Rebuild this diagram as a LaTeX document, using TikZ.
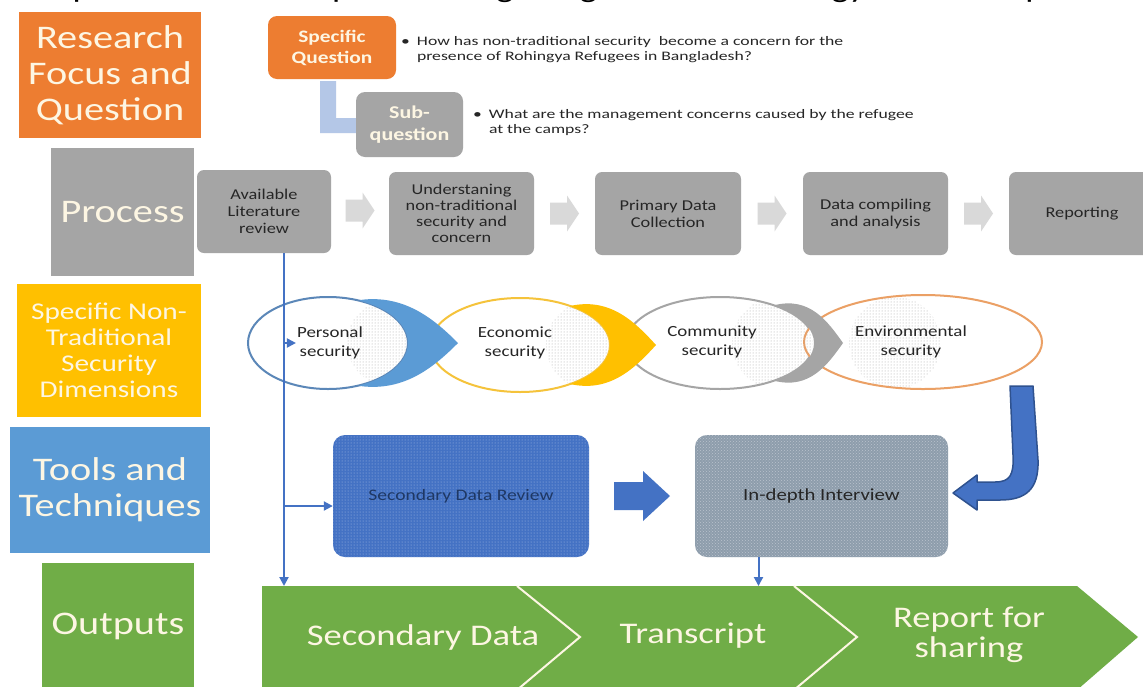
\documentclass[tikz,border=0pt]{standalone}
\usepackage{fontspec}
\setmainfont{Carlito}[FakeStretch=1.22]
\newfontfamily\widefam{Carlito}[FakeStretch=1.36]
\usetikzlibrary{shapes.geometric,arrows.meta,calc,patterns}

\definecolor{orng}{HTML}{ED7D31}
\definecolor{greyb}{HTML}{A5A5A5}
\definecolor{gold}{HTML}{FFC000}
\definecolor{skyb}{HTML}{5B9BD5}
\definecolor{leaf}{HTML}{70AD47}
\definecolor{cream}{HTML}{FDF6E3}
\definecolor{ink}{HTML}{262626}
\definecolor{paleblue}{HTML}{B4C7E7}
\definecolor{arrgray}{HTML}{D9D9D9}
\definecolor{royal}{HTML}{4472C4}
\definecolor{navy}{HTML}{2F528F}
\definecolor{darknavy}{HTML}{1F3864}
\definecolor{slate}{HTML}{8E9DAC}
\definecolor{slatedot}{HTML}{BAC4CE}
\definecolor{sdrdot}{HTML}{A9BFE6}
\definecolor{dotgray}{HTML}{A8A8A8}
\definecolor{persline}{HTML}{5B87B8}
\definecolor{econline}{HTML}{F5C33B}
\definecolor{envline}{HTML}{EBA065}

\newcommand\fsz[2]{\fontsize{#1}{#2}\selectfont}

\tikzset{
  lbl/.style={fill=#1, text=cream, align=center, inner sep=0pt},
  rbox/.style={fill=#1, text=cream, align=center, inner sep=0pt, rounded corners=9pt},
  pbox/.style={fill=greyb, text=ink, align=center, inner sep=0pt, rounded corners=7pt,
               minimum height=83pt, font=\fsz{15}{17}},
  ell/.style={ellipse, fill=white, line width=2pt, inner sep=0pt},
  etxt/.style={text=ink, align=center, inner sep=1pt, font=\fsz{15.5}{19}},
  conn/.style={draw=royal, line width=2pt, -{Triangle[length=9pt,width=9pt]}},
  outtxt/.style={text=cream, align=center, inner sep=0pt, font=\fsz{30}{30}},
  qtxt/.style={anchor=west, inner sep=0pt, text=ink, font=\widefam\fsz{13}{15}},
  pics/grayarrow/.style={code={
    \fill[arrgray] (-14.5,-11) -- (2.5,-11) -- (2.5,-18) -- (14.5,0)
                   -- (2.5,18) -- (2.5,11) -- (-14.5,11) -- cycle;}},
  pics/bigarrow/.style={code={
    \fill[royal] (-28,-14) -- (1,-14) -- (1,-25) -- (28,0)
                 -- (1,25) -- (1,14) -- (-28,14) -- cycle;}},
}

\begin{document}
\begin{tikzpicture}[x=1pt,y=-1pt]
\useasboundingbox (0,0) rectangle (1143,686);
\clip (0,0) rectangle (1143,686);
\fill[white] (0,0) rectangle (1143,686);

% running text from the page above, only its lowest part is on the sheet
\node[anchor=base west, inner sep=0pt, font=\fsz{30}{30}, text=black] (runtxt) at (8,-3)
  {is expected to be completed using the given methodology and conceptual framework};

% row labels
\node[lbl=orng, minimum width=182pt, minimum height=126pt, font=\fsz{33}{36}] (rq) at (110,75)
  {Research\\Focus and\\Question};
\node[lbl=greyb, minimum width=143pt, minimum height=128pt, font=\fsz{33}{36}] (proc) at (122.5,212)
  {Process};
\node[lbl=gold, minimum width=184pt, minimum height=133pt, font=\fsz{24}{26}] (dims) at (109,350.5)
  {Specific Non-\\Traditional\\Security\\Dimensions};
\node[lbl=skyb, minimum width=200pt, minimum height=126pt, font=\fsz{33}{36}] (tools) at (110,490)
  {Tools and\\Techniques};
\node[lbl=leaf, minimum width=152pt, minimum height=127pt, font=\fsz{33}{36}] (outl) at (118,626.5)
  {Outputs};

% research questions
\fill[paleblue] (320,81) rectangle (336,133) (336,118) rectangle (362,133);
\node[rbox=orng, minimum width=128pt, minimum height=63pt, font=\bfseries\fsz{17.5}{21}] (sq) at (332,47.5)
  {Specific\\Question};
\node[rbox=greyb, minimum width=107pt, minimum height=65pt, font=\bfseries\fsz{18}{22}] (subq) at (409.5,124.5)
  {Sub-\\question};
\node[qtxt] (q1) at (401,50)
  {\begin{tabular}{@{}l@{\hspace{7pt}}l@{}}\textbullet & How has non-traditional security~ become a concern for the\\
   & presence of Rohingya Refugees in Bangladesh?\end{tabular}};
\node[qtxt] (q2) at (473,123)
  {\begin{tabular}{@{}l@{\hspace{7pt}}l@{}}\textbullet & What are the management concerns caused by the refugee\\
   & at the camps?\end{tabular}};

% process steps
\node[pbox, minimum width=134pt] (lit)  at (264,211.5) {Available\\Literature\\review};
\node[pbox, minimum width=145pt, font=\fsz{15}{16}] (und) at (461.5,213.5)
  {Understaning\\non-traditional\\security and\\concern};
\node[pbox, minimum width=146pt] (prim) at (668,213.5) {Primary Data\\Collection};
\node[pbox, minimum width=145pt] (comp) at (875.5,213.5) {Data compiling\\and analysis};
\node[pbox, minimum width=146pt] (rep)  at (1082,213.5) {Reporting};
\pic at ($(lit.east)!.5!(und.west)+(0,-2)$) {grayarrow};
\pic at ($(und.east)!.5!(prim.west)$) {grayarrow};
\pic at ($(prim.east)!.5!(comp.west)$) {grayarrow};
\pic at ($(comp.east)!.5!(rep.west)$) {grayarrow};

% security dimensions
\node[ell, draw=persline, minimum width=160pt, minimum height=92pt] (pers) at (328,343) {};
\node[ell, draw=econline, minimum width=180pt, minimum height=94pt] (econ) at (520,345) {};
\node[ell, draw=greyb,    minimum width=188pt, minimum height=92pt] (comm) at (720,343) {};
\node[ell, draw=envline,  minimum width=238pt, minimum height=94pt] (envi) at (923,342) {};

\begin{scope}
  \clip (328,343) ellipse [x radius=79, y radius=45];
  \fill[pattern=dots, pattern color=dotgray] (390,343) circle [radius=43];
\end{scope}
\begin{scope}
  \clip (520,345) ellipse [x radius=89, y radius=46];
  \fill[pattern=dots, pattern color=dotgray] (590,345) circle [radius=44];
\end{scope}
\begin{scope}
  \clip (720,343) ellipse [x radius=93, y radius=45];
  \fill[pattern=dots, pattern color=dotgray] (778,343) circle [radius=46];
\end{scope}
\begin{scope}
  \clip (923,342) ellipse [x radius=118, y radius=46];
  \fill[pattern=dots, pattern color=dotgray] (895,343) circle [radius=46];
\end{scope}

\begin{scope}[even odd rule]
  \clip (0,0) rectangle (1143,686) (328,343) ellipse [x radius=80, y radius=46];
  \fill[skyb] (360,300) .. controls (405,294) and (435,320) .. (458,343)
              .. controls (435,366) and (405,392) .. (360,386) -- cycle;
\end{scope}
\begin{scope}[even odd rule]
  \clip (0,0) rectangle (1143,686) (520,345) ellipse [x radius=90, y radius=47];
  \fill[gold] (570,306) .. controls (610,297) and (635,322) .. (656,345)
              .. controls (635,368) and (610,393) .. (570,384) -- cycle;
\end{scope}
\begin{scope}[even odd rule]
  \clip (0,0) rectangle (1143,686) (720,343) ellipse [x radius=94, y radius=46];
  \fill[greyb] (774,305.3) .. controls (810,296) and (828,322) .. (843,343)
               .. controls (828,364) and (810,390) .. (774,380.7) -- cycle;
\end{scope}

\node[etxt] (ptx) at (330,343) {Personal\\security};
\node[etxt] (etx) at (515,343) {Economic\\security};
\node[etxt] (ctx) at (712,342) {Community\\security};
\node[etxt] (vtx) at (911,342) {Environmental\\security};

% tools and techniques
\node[preaction={fill=royal}, pattern=dots, pattern color=sdrdot, rounded corners=12pt,
      minimum width=256pt, minimum height=122pt, inner sep=0pt,
      text=darknavy, font=\fsz{16}{18}] (sdr) at (461,496) {Secondary Data Review};
\node[preaction={fill=slate}, pattern=crosshatch dots, pattern color=slatedot, rounded corners=12pt,
      minimum width=253pt, minimum height=122pt, inner sep=0pt,
      text=ink, font=\fsz{17}{19}] (idi) at (821.5,496) {In-depth Interview};
\pic at ($(sdr.east)!.5!(idi.west)$) {bigarrow};

% bent arrow from the dimensions down to the interviews
\filldraw[fill=royal, draw=navy, line width=1.5pt, line join=round]
  (1033,386) -- (1038,460) .. controls (1039,490) and (1025,500) .. (1000,500)
  -- (977,500) -- (977,510) -- (953,493) -- (977,475) -- (977,482) -- (995,482)
  .. controls (1010,482) and (1014,475) .. (1013,455) -- (1010,386) -- cycle;

% outputs
\fill[leaf] (262,586) -- (1077,586) -- (1138,637) -- (1077,690) -- (262,690) -- cycle;
\draw[cream, line width=2pt] (517,586) -- (580,637) -- (517,690);
\draw[cream, line width=2pt] (794,586) -- (857,637) -- (794,690);
\node[outtxt] (o1) at (423,637) {Secondary Data};
\node[outtxt] (o2) at (693,636) {Transcript};
\node[outtxt] (o3) at (969,635) {Report for\\sharing};

% connectors
\coordinate (tk) at ([xshift=20pt]lit.south);
\coordinate (chtop) at (0,586);
\coordinate (sdrin) at ([yshift=-10pt]sdr.west);
\coordinate (idiout) at ([xshift=-63pt]idi.south);
\draw[conn] (tk) -- (tk |- chtop);
\draw[conn] (tk |- ptx.west) -- (ptx.west);
\draw[conn] (tk |- sdrin) -- (sdrin);
\draw[conn] (idiout) -- (idiout |- chtop);
\end{tikzpicture}
\end{document}
